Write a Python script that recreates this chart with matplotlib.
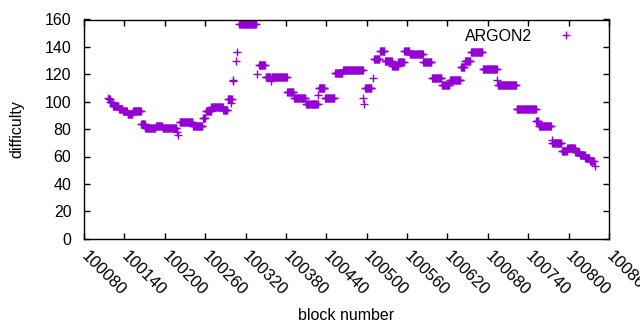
import matplotlib
matplotlib.use("Agg")
import matplotlib.pyplot as plt
import matplotlib.transforms as mtransforms
import numpy as np

# difficulty per block, stored as runs: first block, number of blocks, value
run_start = [100116, 100117, 100119, 100123, 100132, 100138, 100145, 100153,
             100165, 100171, 100187, 100197, 100218, 100219, 100222, 100242,
             100257, 100261, 100269, 100287, 100294, 100298, 100299, 100301,
             100302, 100306, 100307, 100311, 100337, 100340, 100350, 100358,
             100359, 100382, 100392, 100410, 100428, 100429, 100438, 100453,
             100465, 100495, 100496, 100498, 100509, 100511, 100520, 100527,
             100538, 100547, 100556, 100564, 100584, 100597, 100612, 100624,
             100640, 100646, 100655, 100673, 100694, 100695, 100723, 100752,
             100756, 100775, 100776, 100790, 100798, 100810, 100817, 100825,
             100832, 100839]
run_len = [1, 2, 4, 9, 6, 7, 8, 12,
           6, 16, 10, 21, 1, 1, 20, 15,
           4, 8, 18, 7, 4, 1, 2, 1,
           1, 1, 1, 25, 1, 10, 8, 1,
           23, 10, 18, 18, 1, 9, 15, 12,
           30, 1, 1, 10, 1, 9, 7, 11,
           9, 9, 8, 20, 13, 15, 12, 16,
           6, 9, 18, 21, 1, 28, 29, 4,
           19, 1, 14, 8, 12, 7, 8, 7,
           6, 1]
run_value = [103, 102, 100, 97, 95, 93, 91, 93,
             84, 81, 82, 81, 78, 76, 85, 82,
             88, 93, 96, 94, 102, 99, 102, 115,
             116, 130, 136, 157, 120, 127, 118, 115,
             118, 107, 103, 98, 105, 110, 103, 121,
             123, 103, 98, 110, 117, 131, 137, 130,
             126, 129, 137, 135, 129, 117, 112, 116,
             125, 130, 136, 124, 116, 112, 95, 86,
             82, 72, 70, 64, 66, 63, 61, 59,
             57, 53]

x_ticks = list(range(100080, 100861, 60))
y_ticks = list(range(0, 161, 20))

blocks = np.concatenate([np.arange(s, s + n) for s, n in zip(run_start, run_len)])
difficulty = np.repeat(run_value, run_len)

plt.rcParams['font.family'] = ['Liberation Sans', 'DejaVu Sans']
plt.rcParams['font.size'] = 11.5

fig = plt.figure(figsize=(6.4, 3.3), dpi=100)
ax = fig.add_axes([84 / 640, 1 - 238.7 / 330, 525 / 640, 219.2 / 330])

ax.plot(blocks, difficulty, linestyle='none', marker='+', color='#9400D3',
        markersize=5.5, markeredgewidth=1.0, label='ARGON2')

ax.set_xlim(100080, 100860)
ax.set_ylim(0, 160)
ax.set_xticks(x_ticks)
ax.set_yticks(y_ticks)
ax.set_xticklabels([str(t) for t in x_ticks], rotation=-45, ha='left', va='top',
                   rotation_mode='anchor', fontsize=12)
ax.tick_params(direction='in', top=True, right=True, length=4, width=1)
ax.tick_params(axis='y', pad=9)
ax.tick_params(axis='x', pad=7)
# nudge the rotated labels a little to the right, like gnuplot does
shift = mtransforms.ScaledTranslation(5 / 100, 0, fig.dpi_scale_trans)
for lab in ax.get_xticklabels():
    lab.set_transform(lab.get_transform() + shift)
for sp in ax.spines.values():
    sp.set_linewidth(1)

ax.set_xlabel('block number', labelpad=7)
ax.set_ylabel('difficulty', labelpad=15)

ax.legend(loc='upper right', markerfirst=False, frameon=False, numpoints=1,
          handlelength=2.5, handletextpad=0.9, borderaxespad=0.2,
          bbox_to_anchor=(0.975, 1.0), fontsize=11.5)

fig.savefig('out.png', dpi=100)
